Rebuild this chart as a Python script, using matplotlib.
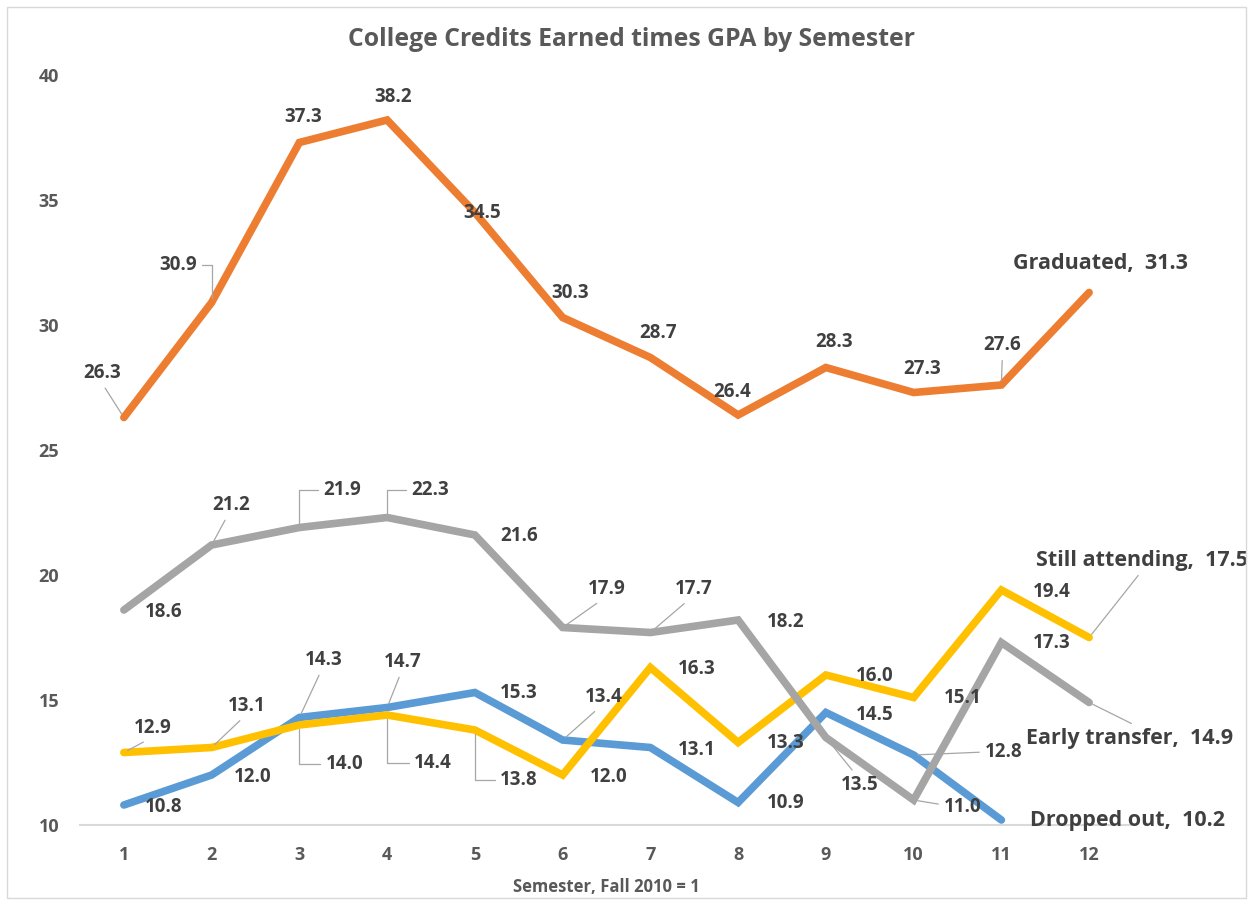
import matplotlib
matplotlib.use("Agg")
import matplotlib.pyplot as plt
from matplotlib.patches import Rectangle

# ---------------- data ----------------
semesters = list(range(1, 13))
series_names = ["Graduated", "Early transfer", "Still attending", "Dropped out"]
graduated = [26.3, 30.9, 37.3, 38.2, 34.5, 30.3, 28.7, 26.4, 28.3, 27.3, 27.6, 31.3]
early_transfer = [18.6, 21.2, 21.9, 22.3, 21.6, 17.9, 17.7, 18.2, 13.5, 11.0, 17.3, 14.9]
still_attending = [12.9, 13.1, 14.0, 14.4, 13.8, 12.0, 16.3, 13.3, 16.0, 15.1, 19.4, 17.5]
dropped_out = [10.8, 12.0, 14.3, 14.7, 15.3, 13.4, 13.1, 10.9, 14.5, 12.8, 10.2]
title = "College Credits Earned times GPA by Semester"
xlabel = "Semester, Fall 2010 = 1"
yticks = [10, 15, 20, 25, 30, 35, 40]

# ---------------- style / layout ----------------
colors = {"Graduated": "#ED7D31", "Early transfer": "#A5A5A5",
          "Still attending": "#FFC000", "Dropped out": "#5B9BD5"}
FONT = "Open Sans"
LABEL_C = "#404040"
AXIS_C = "#595959"
LEADER_C = "#A6A6A6"

# label offsets in pixels (dx right, dy down) and leader style
lab_grad = [(-22, -44.5, ("line", (0.5, 0))), (-34, -37.5, ("elbow", (1, 0.5))),
            (4, -25.5, None), (6, -23, None), (7, 0, None), (8, -24.5, None),
            (8, -24.5, None), (-6, -23, None), (8, -25.5, None), (9, -23.5, None),
            (1, -40, ("line", (0.5, 0))), (11, -29.5, None)]
lab_early = [(40, 2, None), (20, -40, ("line", (0.4, 0))), (43, -37.5, ("elbow", (0, 0.5))),
             (43, -27.5, ("elbow", (0, 0.5))), (44, 1, None), (44, -38.5, ("line", (0.4, 0))),
             (43, -43.5, ("line", (0.4, 0))), (48, 2, None), (34, 47.5, ("line", (0.4, 1))),
             (49, 7, ("line", (0, 0.6))), (50, 0, None), (40, 35.5, ("line", (0.55, 1)))]
lab_still = [(29, -24.5, ("line", (0.45, 0))), (35, -41.5, ("line", (0.45, 0))),
             (45, 39, ("elbow", (0, 0.5))), (46, 48, ("elbow", (0, 0.5))),
             (44, 50, ("elbow", (0, 0.5))), (46, 2, None), (46, 1.5, None), (48, 0, None),
             (49, 1, None), (49, 0, None), (50, 2, None), (53, -77.5, ("line", (0.5, 0)))]
lab_drop = [(40, 2, None), (41, 2, None), (24, -57.5, ("line", (0.45, 0))),
            (16, -45.5, ("line", (0.45, 0))), (44, 0.5, None), (41, -43, ("line", (0.4, 0))),
            (46, 2.5, None), (48, 0.5, None), (49, 2.5, None), (90, -3, ("line", (0, 0.5))),
            (126, 0, None)]

data = {"Graduated": graduated, "Early transfer": early_transfer,
        "Still attending": still_attending, "Dropped out": dropped_out}
labels = {"Graduated": lab_grad, "Early transfer": lab_early,
          "Still attending": lab_still, "Dropped out": lab_drop}

W, H = 1253, 905
fig = plt.figure(figsize=(W / 100, H / 100), dpi=100)
fig.patches.append(Rectangle((7 / W, 7 / H), (W - 14) / W, (H - 14) / H,
                             transform=fig.transFigure, fill=False,
                             edgecolor="#D9D9D9", linewidth=1.0))
ax = fig.add_axes([80 / W, 1 - 825 / H, (1133 - 80) / W, (825 - 75) / H])
ax.set_xlim(0.5, 12.5)
ax.set_ylim(10, 40)

for name in ["Dropped out", "Still attending", "Early transfer", "Graduated"]:
    vals = data[name]
    xs = semesters[:len(vals)]
    ax.plot(xs, vals, color=colors[name], lw=5.5, solid_capstyle="round",
            solid_joinstyle="miter", zorder=3, clip_on=False)

for name in series_names:
    vals = data[name]
    xs = semesters[:len(vals)]
    for i, (x, v) in enumerate(zip(xs, vals)):
        dx, dy, leader = labels[name][i]
        last = i == len(vals) - 1
        txt = f"{name},  {v:.1f}" if last else f"{v:.1f}"
        fs = 15.5 if last else 13.5
        kw = {}
        if leader is not None:
            kind, relpos = leader
            cs = "angle,angleA=0,angleB=90,rad=0" if kind == "elbow" else "arc3"
            kw["arrowprops"] = dict(arrowstyle="-", color=LEADER_C, lw=0.9,
                                    shrinkA=2, shrinkB=3, relpos=relpos,
                                    connectionstyle=cs)
        ax.annotate(txt, xy=(x, v), xytext=(dx, -dy), textcoords="offset pixels",
                    ha="center", va="center", fontsize=fs, fontweight="bold",
                    family=FONT, color=LABEL_C, zorder=5, annotation_clip=False, **kw)

for s in ["top", "right", "left"]:
    ax.spines[s].set_visible(False)
ax.spines["bottom"].set_color("#D9D9D9")
ax.spines["bottom"].set_linewidth(1.5)
ax.set_xticks(semesters)
ax.set_xticklabels([str(s) for s in semesters])
ax.set_yticks(yticks)
ax.tick_params(axis="both", length=0, labelsize=13, labelcolor=AXIS_C)
ax.tick_params(axis="x", pad=15)
ax.tick_params(axis="y", pad=15)
for t in ax.get_xticklabels() + ax.get_yticklabels():
    t.set_fontweight("bold")
    t.set_family(FONT)

ax.set_xlabel(xlabel, fontsize=12, fontweight="bold", color=AXIS_C, family=FONT, labelpad=10)
fig.text(631 / W, 1 - 40 / H, title, ha="center", va="center", fontsize=17.8,
         fontweight="bold", color=AXIS_C, family=FONT)

fig.savefig("out.png", dpi=100)
